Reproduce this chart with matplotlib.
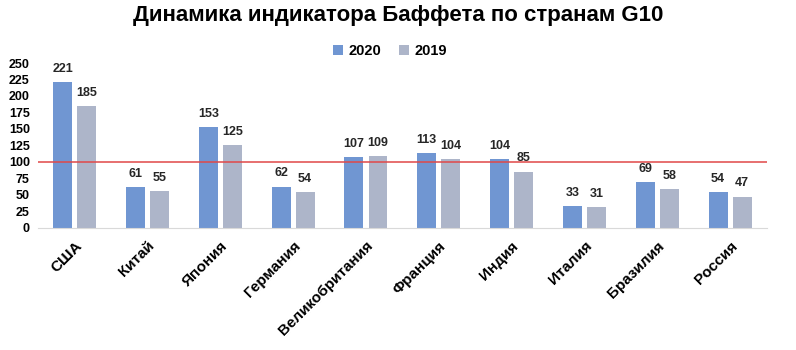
import matplotlib
matplotlib.use("Agg")
import matplotlib.pyplot as plt
import numpy as np

plt.rcParams['font.family'] = ['Liberation Sans', 'DejaVu Sans']

countries = ["США", "Китай", "Япония", "Германия", "Великобритания",
             "Франция", "Индия", "Италия", "Бразилия", "Россия"]
vals_2020 = [221, 61, 153, 62, 107, 113, 104, 33, 69, 54]
vals_2019 = [185, 55, 125, 54, 109, 104, 85, 31, 58, 47]
yticks = [0, 25, 50, 75, 100, 125, 150, 175, 200, 225, 250]

c2020 = "#7096d2"
c2019 = "#adb5c9"

fig = plt.figure(figsize=(7.96, 3.5), dpi=100)
ax = fig.add_axes([0.048, 0.35, 0.915, 0.47])

x = np.arange(len(countries))
w = 0.26
off = 0.165
b1 = ax.bar(x - off, vals_2020, w, color=c2020, label="2020")
b2 = ax.bar(x + off, vals_2019, w, color=c2019, label="2019")

# value labels above each bar
for bars, vals in ((b1, vals_2020), (b2, vals_2019)):
    for b, v in zip(bars, vals):
        ax.text(b.get_x() + b.get_width() / 2, v + 11, str(v), ha="center",
                va="bottom", fontsize=9, fontweight="bold", color="#262626")

ax.axhline(100, color="#e04848", lw=1.1, zorder=3)

ax.set_xlim(-0.5, len(countries) - 0.5)
ax.set_ylim(0, 250)
ax.set_yticks(yticks)
ax.set_yticklabels([str(t) for t in yticks], fontsize=9, fontweight="bold")
ax.set_xticks(x)
ax.set_xticklabels(countries, rotation=45, ha="right", rotation_mode="anchor",
                   fontsize=11, fontweight="bold")
ax.tick_params(axis="both", length=0)
ax.tick_params(axis="y", pad=6)
ax.tick_params(axis="x", pad=8)
for s in ("top", "right", "left"):
    ax.spines[s].set_visible(False)
ax.spines["bottom"].set_color("#d9d9d9")

fig.suptitle("Динамика индикатора Баффета по странам G10", x=0.5, y=0.985,
             fontsize=16, fontweight="bold")
fig.legend(handles=[b1, b2], loc="center", bbox_to_anchor=(0.49, 0.855),
           ncol=2, frameon=False, prop={"weight": "bold", "size": 10.5},
           handlelength=0.7, handleheight=0.7, columnspacing=1.2, handletextpad=0.4)

fig.savefig("out.png", dpi=100)
